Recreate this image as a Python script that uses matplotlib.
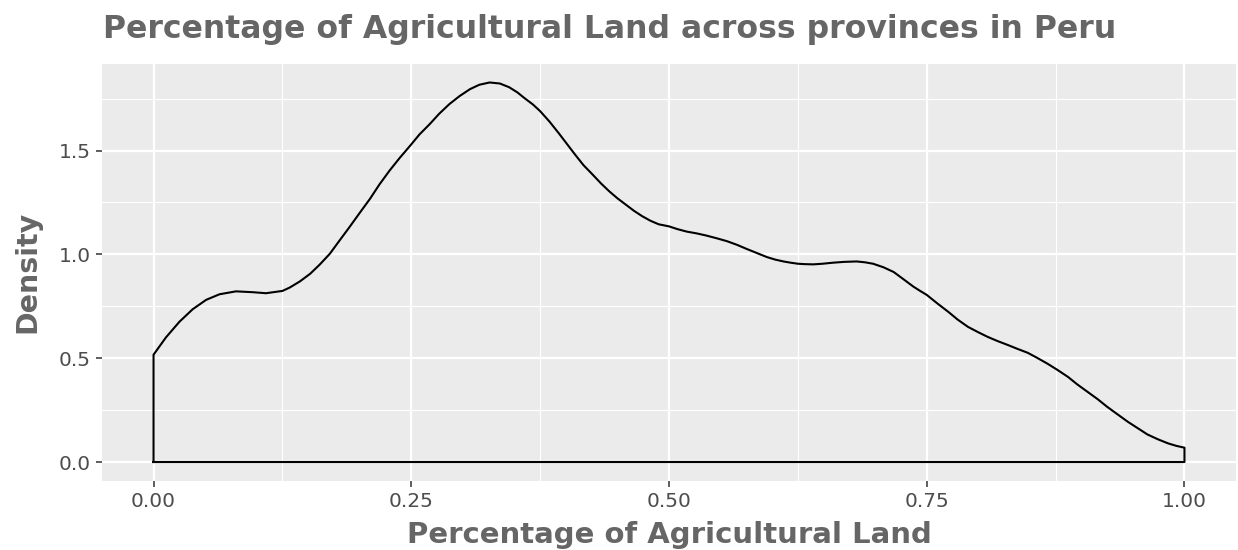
import matplotlib
matplotlib.use("Agg")
import matplotlib.pyplot as plt
import numpy as np

# Density curve
x_vals = [0.000, 0.012, 0.025, 0.038, 0.051, 0.064, 0.080, 0.096, 0.109, 0.125,
          0.132, 0.142, 0.152, 0.161, 0.171, 0.180, 0.190, 0.200, 0.210, 0.219,
          0.229, 0.239, 0.249, 0.258, 0.268, 0.277, 0.287, 0.297, 0.307, 0.316,
          0.326, 0.336, 0.345, 0.353, 0.360, 0.368, 0.375, 0.384, 0.393, 0.401,
          0.409, 0.417, 0.426, 0.434, 0.442, 0.450, 0.458, 0.466, 0.474, 0.482,
          0.490, 0.500, 0.508, 0.517, 0.527, 0.536, 0.546, 0.556, 0.566, 0.575,
          0.585, 0.595, 0.603, 0.611, 0.618, 0.625, 0.632, 0.640, 0.649, 0.659,
          0.670, 0.682, 0.690, 0.698, 0.708, 0.718, 0.727, 0.737, 0.743, 0.750,
          0.760, 0.771, 0.780, 0.790, 0.800, 0.809, 0.819, 0.829, 0.838, 0.848,
          0.857, 0.867, 0.877, 0.887, 0.896, 0.906, 0.916, 0.925, 0.935, 0.945,
          0.955, 0.964, 0.974, 0.984, 0.992, 1.000]
density = [0.517, 0.600, 0.675, 0.736, 0.781, 0.808, 0.822, 0.818, 0.813, 0.824,
           0.840, 0.870, 0.907, 0.950, 1.003, 1.064, 1.131, 1.200, 1.268, 1.336,
           1.404, 1.466, 1.524, 1.578, 1.628, 1.677, 1.724, 1.763, 1.796, 1.817,
           1.828, 1.823, 1.805, 1.780, 1.752, 1.722, 1.690, 1.640, 1.584, 1.532,
           1.480, 1.430, 1.384, 1.342, 1.304, 1.270, 1.240, 1.210, 1.184, 1.162,
           1.145, 1.135, 1.122, 1.110, 1.101, 1.091, 1.078, 1.064, 1.046, 1.027,
           1.007, 0.987, 0.975, 0.966, 0.960, 0.955, 0.953, 0.952, 0.955, 0.960,
           0.964, 0.966, 0.962, 0.955, 0.938, 0.915, 0.882, 0.845, 0.826, 0.805,
           0.765, 0.723, 0.686, 0.651, 0.625, 0.603, 0.582, 0.563, 0.545, 0.526,
           0.502, 0.474, 0.443, 0.410, 0.374, 0.338, 0.302, 0.266, 0.230, 0.194,
           0.162, 0.133, 0.110, 0.090, 0.078, 0.069]

x_ticks = [0.00, 0.25, 0.50, 0.75, 1.00]
x_ticklabels = ["0.00", "0.25", "0.50", "0.75", "1.00"]
y_ticks = [0.0, 0.5, 1.0, 1.5]
y_ticklabels = ["0.0", "0.5", "1.0", "1.5"]

title = "Percentage of Agricultural Land across provinces in Peru"
xlabel = "Percentage of Agricultural Land"
ylabel = "Density"

W, H = 1238, 550
fig = plt.figure(figsize=(W / 100, H / 100), dpi=100)
ax = fig.add_axes([102 / W, 1 - 481 / H, (1236 - 102) / W, (481 - 63.5) / H])

ax.set_facecolor("#EBEBEB")
for s in ax.spines.values():
    s.set_visible(False)

# closed polygon like geom_density outline
px = [x_vals[0]] + x_vals + [x_vals[-1], x_vals[0]]
py = [0.0] + density + [0.0, 0.0]
ax.plot(px, py, color="black", lw=1.5, solid_joinstyle="round", zorder=3)

xmin, xmax = min(x_vals), max(x_vals)
xr = xmax - xmin
ymax = max(density)
ax.set_xlim(xmin - 0.05 * xr, xmax + 0.05 * xr)
ax.set_ylim(-0.05 * ymax, ymax * 1.05)

ax.set_xticks(x_ticks)
ax.set_xticklabels(x_ticklabels)
ax.set_yticks(y_ticks)
ax.set_yticklabels(y_ticklabels)
ax.set_xticks([0.125, 0.375, 0.625, 0.875], minor=True)
ax.set_yticks([0.25, 0.75, 1.25, 1.75], minor=True)

ax.grid(which="major", color="white", lw=1.6)
ax.grid(which="minor", color="white", lw=0.8)
ax.set_axisbelow(True)
ax.tick_params(which="major", length=4, width=1.1, color="#333333",
               labelcolor="#4D4D4D", labelsize=14.5, pad=4)
ax.tick_params(which="minor", length=0)

fig.text(103 / W, 1 - 38 / H, title, fontsize=22.7, fontweight="bold",
         color="#666666", ha="left", va="baseline")
fig.text((102 + 1236) / 2 / W, 1 - 543 / H, xlabel, fontsize=21, fontweight="bold",
         color="#666666", ha="center", va="baseline")
fig.text(27 / W, 1 - 272 / H, ylabel, fontsize=20.5, fontweight="bold",
         color="#666666", ha="center", va="center", rotation=90)

fig.savefig("out.png", dpi=100)
